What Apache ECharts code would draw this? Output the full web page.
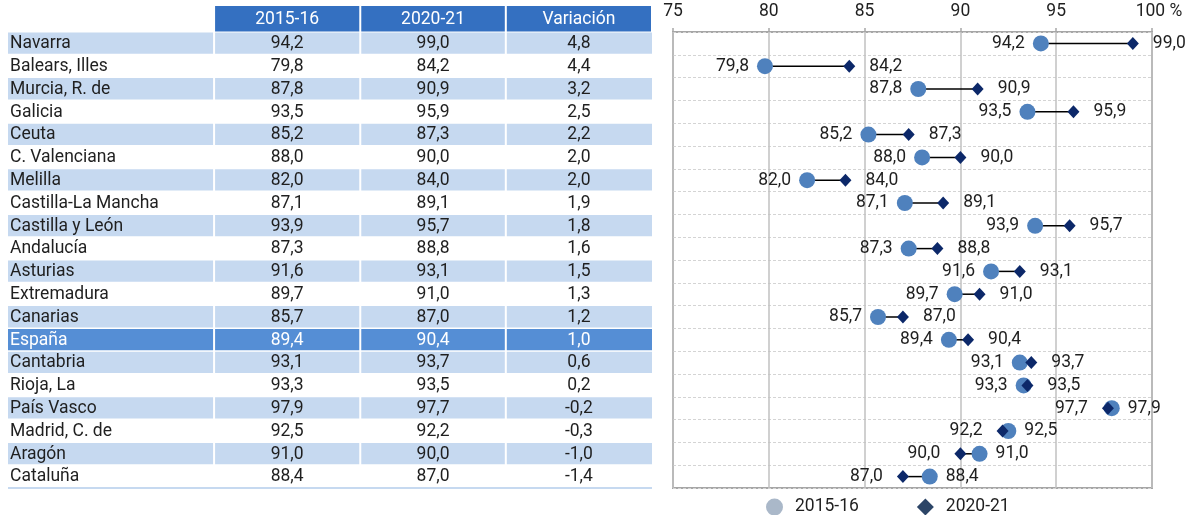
<!DOCTYPE html>
<html>
<head>
<meta charset="utf-8">
<script src="https://cdn.jsdelivr.net/npm/echarts@6/dist/echarts.min.js"></script>
<style>
	html,body{margin:0;padding:0;background:#fff;}
	#main{width:1191px;height:515px;}
</style>
</head>
<body>
<div id="main"></div>
<script>
	// datos
	var regiones = ['Navarra', 'Balears, Illes', 'Murcia, R. de', 'Galicia', 'Ceuta', 'C. Valenciana', 'Melilla',
		'Castilla-La Mancha', 'Castilla y León', 'Andalucía', 'Asturias', 'Extremadura', 'Canarias', 'España',
		'Cantabria', 'Rioja, La', 'País Vasco', 'Madrid, C. de', 'Aragón', 'Cataluña'];
	var v2015 = [94.2, 79.8, 87.8, 93.5, 85.2, 88.0, 82.0, 87.1, 93.9, 87.3, 91.6, 89.7, 85.7, 89.4, 93.1, 93.3, 97.9, 92.5, 91.0, 88.4];
	var v2020 = [99.0, 84.2, 90.9, 95.9, 87.3, 90.0, 84.0, 89.1, 95.7, 88.8, 93.1, 91.0, 87.0, 90.4, 93.7, 93.5, 97.7, 92.2, 90.0, 87.0];
	var variacion = [4.8, 4.4, 3.2, 2.5, 2.2, 2.0, 2.0, 1.9, 1.8, 1.6, 1.5, 1.3, 1.2, 1.0, 0.6, 0.2, -0.2, -0.3, -1.0, -1.4];
	var cabecera = ['2015-16', '2020-21', 'Variación'];
	var ejeX = [75, 80, 85, 90, 95, 100];

	var FONT = 'Roboto';
	var FSIZE = 17.5;
	var colAzulCab = '#3470c1';
	var colAzulFila = '#c6d9f0';
	var colEspana = '#558ed5';
	var colCirculo = '#4f81bd';
	var colRombo = '#0c2869';

	// bordes de columnas de la tabla (0..1)
	var colBordes = [0, 0.32, 0.547, 0.773, 1];

	function fmt(v){
		return v.toFixed(1).replace('.', ',');
	}

	var myChart = echarts.init(document.getElementById('main'));

	function filaTabla(params, api){
		var i = api.value(0);
		var c = api.coord([0, i]);
		var h = api.size([0, 1])[1];
		var y0 = c[1] - h / 2;
		var esp = regiones[i] === 'España';
		var fondo = esp ? colEspana : (i % 2 === 0 ? colAzulFila : null);
		var txtCol = esp ? '#fff' : '#1f1f1f';
		var textos = [regiones[i], fmt(v2015[i]), fmt(v2020[i]), fmt(variacion[i])];
		var hijos = [];
		for (var k = 0; k < 4; k++) {
			var xa = api.coord([colBordes[k], i])[0];
			var xb = api.coord([colBordes[k + 1], i])[0];
			if (fondo) {
				hijos.push({
					type: 'rect',
					shape: {x: xa + (k ? 1 : 0), y: y0 + 0.5, width: xb - xa - (k ? 1 : 0) - (k < 3 ? 1 : 0), height: h - 1.5},
					style: {fill: fondo}
				});
			}
			hijos.push({
				type: 'text',
				style: {
					text: textos[k],
					x: k ? (xa + xb) / 2 : xa + 2,
					y: c[1] + 0.5,
					align: k ? 'center' : 'left',
					verticalAlign: 'middle',
					fill: txtCol,
					font: FSIZE + 'px ' + FONT
				}
			});
		}
		// linea final
		if (i === regiones.length - 1) {
			hijos.push({
				type: 'line',
				shape: {x1: api.coord([0, i])[0], y1: y0 + h, x2: api.coord([1, i])[0], y2: y0 + h},
				style: {stroke: colAzulFila, lineWidth: 2}
			});
		}
		return {type: 'group', children: hijos};
	}

	function cabeceraTabla(params, api){
		var c = api.coord([0, 0]);
		var h = api.size([0, 1])[1];
		var yTop = c[1] - h / 2;
		var hijos = [];
		for (var k = 1; k < 4; k++) {
			var xa = api.coord([colBordes[k], 0])[0];
			var xb = api.coord([colBordes[k + 1], 0])[0];
			hijos.push({
				type: 'rect',
				shape: {x: xa + 1, y: yTop - 26, width: xb - xa - 2, height: 25.5},
				style: {fill: colAzulCab}
			});
			hijos.push({
				type: 'text',
				style: {
					text: cabecera[k - 1],
					x: (xa + xb) / 2,
					y: yTop - 12.5,
					align: 'center',
					verticalAlign: 'middle',
					fill: '#fff',
					font: FSIZE + 'px ' + FONT
				}
			});
		}
		return {type: 'group', children: hijos};
	}

	function lineaDumbbell(params, api){
		var i = api.value(0);
		var a = api.coord([v2015[i], i]);
		var b = api.coord([v2020[i], i]);
		return {
			type: 'line',
			shape: {x1: a[0], y1: a[1], x2: b[0], y2: b[1]},
			style: {stroke: '#000', lineWidth: 1.5}
		};
	}

	function puntos(vals, otros){
		var d = [];
		for (var i = 0; i < vals.length; i++) {
			d.push({
				value: [vals[i], i],
				label: {position: vals[i] < otros[i] ? 'left' : 'right'}
			});
		}
		return d;
	}

	var idx = regiones.map(function(r, i){ return [i]; });

	var option = {
		animation: false,
		textStyle: {fontFamily: FONT},
		grid: [
			{left: 8, top: 32, width: 644, height: 456},
			{left: 673, top: 32, width: 479, height: 456, show: true, borderColor: '#a6a6a6', borderWidth: 2, backgroundColor: 'transparent'}
		],
		legend: {
			left: 761,
			top: 493,
			itemGap: 58,
			itemWidth: 17,
			itemHeight: 17,
			textStyle: {fontSize: FSIZE, color: '#1f1f1f', fontFamily: FONT, padding: [0, 0, 0, 7]},
			data: [
				{name: '2015-16', icon: 'circle', itemStyle: {color: '#aab8c9'}},
				{name: '2020-21', icon: 'diamond', itemStyle: {color: '#2c4567'}}
			]
		},
		xAxis: [
			{gridIndex: 0, type: 'value', min: 0, max: 1, show: false},
			{
				gridIndex: 1, type: 'value', min: ejeX[0], max: ejeX[ejeX.length - 1], interval: 5,
				position: 'top',
				axisLine: {show: false},
				axisTick: {show: true, length: 4, lineStyle: {color: '#a6a6a6', width: 1.5}},
				axisLabel: {
					fontSize: FSIZE, color: '#1f1f1f', margin: 11, fontFamily: FONT,
					formatter: function(v){ return v === 100 ? '{p|100 %}' : v; },
					rich: {p: {fontSize: FSIZE, color: '#1f1f1f', fontFamily: FONT, padding: [0, 0, 0, 14]}}
				},
				splitLine: {show: true, lineStyle: {color: '#c0c0c0', width: 1.5}}
			}
		],
		yAxis: [
			{gridIndex: 0, type: 'category', data: regiones, inverse: true, show: false},
			{
				gridIndex: 1, type: 'category', data: regiones, inverse: true,
				axisLine: {show: false}, axisTick: {show: false}, axisLabel: {show: false},
				splitLine: {show: true, lineStyle: {color: '#d4d4d4', type: [3, 2], width: 1}}
			}
		],
		series: [
			{type: 'custom', name: 'cab', xAxisIndex: 0, yAxisIndex: 0, data: [[0]], renderItem: cabeceraTabla, silent: true},
			{type: 'custom', name: 'tabla', xAxisIndex: 0, yAxisIndex: 0, data: idx, renderItem: filaTabla, silent: true},
			{type: 'custom', name: 'linea', xAxisIndex: 1, yAxisIndex: 1, data: idx, renderItem: lineaDumbbell, z: 2},
			{
				type: 'scatter', name: '2015-16', xAxisIndex: 1, yAxisIndex: 1,
				symbol: 'circle', symbolSize: 16, z: 3,
				itemStyle: {color: colCirculo, opacity: 1},
				label: {show: true, distance: 8, fontSize: FSIZE, color: '#1f1f1f', fontFamily: FONT,
					formatter: function(p){ return fmt(p.value[0]); }},
				data: puntos(v2015, v2020)
			},
			{
				type: 'scatter', name: '2020-21', xAxisIndex: 1, yAxisIndex: 1,
				symbol: 'diamond', symbolSize: [12, 13], z: 4,
				itemStyle: {color: colRombo, opacity: 1},
				label: {show: true, distance: 14, fontSize: FSIZE, color: '#1f1f1f', fontFamily: FONT,
					formatter: function(p){ return fmt(p.value[0]); }},
				data: puntos(v2020, v2015)
			}
		]
	};

	myChart.setOption(option);
</script>
</body>
</html>
